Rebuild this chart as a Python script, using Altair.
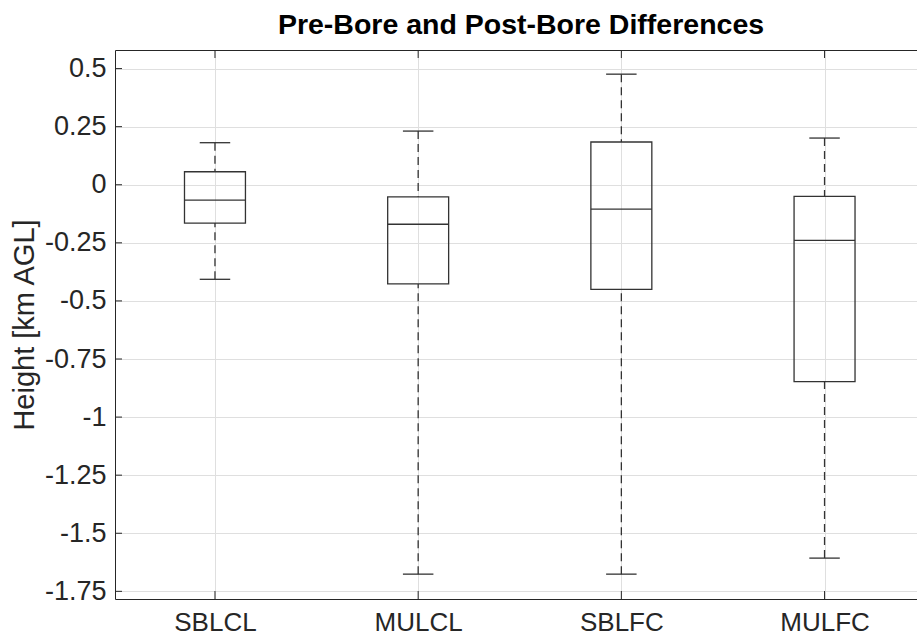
import altair as alt
import pandas as pd

# ---- data ----
categories = ["SBLCL", "MULCL", "SBLFC", "MULFC"]
lower_whisker = [-0.407, -1.676, -1.676, -1.607]
q1 = [-0.165, -0.427, -0.450, -0.847]
median = [-0.066, -0.170, -0.105, -0.239]
q3 = [0.056, -0.052, 0.184, -0.050]
upper_whisker = [0.181, 0.231, 0.476, 0.201]

y_ticks = [-1.75, -1.5, -1.25, -1, -0.75, -0.5, -0.25, 0, 0.25, 0.5]
y_tick_labels = ["-1.75", "-1.5", "-1.25", "-1", "-0.75", "-0.5", "-0.25", "0", "0.25", "0.5"]

title_text = "Pre-Bore and Post-Bore Differences"
y_title = "Height [km AGL]"

# ---- layout / style ----
W, H = 802, 549
FONT = "Liberation Sans"
AX = "#262626"
LINE = "#333333"
GRID = "#dfdfdf"
BOX_HALF = 0.15
CAP_HALF = 0.075

df = pd.DataFrame({
    "cat": categories,
    "pos": list(range(1, len(categories) + 1)),
    "lower": lower_whisker,
    "q1": q1,
    "median": median,
    "q3": q3,
    "upper": upper_whisker,
})
ticks_df = pd.DataFrame({"v": y_ticks, "lab": y_tick_labels})

xscale = alt.Scale(domain=[0.508, 4.455], nice=False, zero=False)
yscale = alt.Scale(domain=[-1.783, 0.58], nice=False, zero=False)

x_label_expr = "[" + ",".join("'%s'" % c for c in categories) + "][datum.value - 1]"
y_label_expr = "datum.value < 0 ? '-' + format(-datum.value, '') : format(datum.value, '')"

x_axis_bottom = alt.Axis(values=list(range(1, len(categories) + 1)), labelExpr=x_label_expr,
                         orient="bottom", grid=True, gridColor=GRID, ticks=True, tickSize=0,
                         labelPadding=10, labelFontSize=26, labelFont=FONT, labelColor=AX,
                         domainColor=AX, domainWidth=1, title=None)
y_axis = alt.Axis(values=y_ticks, labelExpr=y_label_expr, grid=True, gridColor=GRID,
                  ticks=True, tickSize=0, labelPadding=9, labelFontSize=27, labelFont=FONT,
                  labelColor=AX, domainColor=AX, domainWidth=1,
                  title=y_title, titleFont=FONT, titleFontSize=29, titleFontWeight="normal",
                  titleColor=AX, titleX=-82, titleY=H / 2, titleAngle=270,
                  titleAlign="center", titleBaseline="alphabetic")

Y = lambda f: alt.Y(f, scale=yscale, axis=y_axis)
XN = lambda f: alt.X(f, scale=xscale, axis=None)

base = alt.Chart(df).transform_calculate(
    bx1=f"datum.pos - {BOX_HALF}", bx2=f"datum.pos + {BOX_HALF}",
    cx1=f"datum.pos - {CAP_HALF}", cx2=f"datum.pos + {CAP_HALF}",
)

boxes = base.mark_rect(fill="transparent", stroke=LINE, strokeWidth=1.3).encode(
    x=alt.X("bx1:Q", scale=xscale, axis=x_axis_bottom),
    x2="bx2:Q",
    y=Y("q1:Q"), y2="q3:Q",
)
medians = base.mark_rule(color=LINE, strokeWidth=1.3).encode(
    x=XN("bx1:Q"), x2="bx2:Q", y=Y("median:Q"),
)
up_whisk = base.mark_rule(color=LINE, strokeWidth=1.3, strokeDash=[8, 5]).encode(
    x=XN("pos:Q"), y=Y("upper:Q"), y2="q3:Q",
)
lo_whisk = base.mark_rule(color=LINE, strokeWidth=1.3, strokeDash=[8, 5]).encode(
    x=XN("pos:Q"), y=Y("lower:Q"), y2="q1:Q",
)
up_cap = base.mark_rule(color=LINE, strokeWidth=1.3).encode(
    x=XN("cx1:Q"), x2="cx2:Q", y=Y("upper:Q"),
)
lo_cap = base.mark_rule(color=LINE, strokeWidth=1.3).encode(
    x=XN("cx1:Q"), x2="cx2:Q", y=Y("lower:Q"),
)

# inward tick marks (MATLAB style)
y_tick_marks = alt.Chart(ticks_df).mark_rule(color=AX, strokeWidth=1).encode(
    y=Y("v:Q"), x=alt.value(0), x2=alt.value(7),
)
x_tick_bottom = alt.Chart(df).mark_rule(color=AX, strokeWidth=1).encode(
    x=XN("pos:Q"), y=alt.value(H), y2=alt.value(H - 8),
)
x_tick_top = alt.Chart(df).mark_rule(color=AX, strokeWidth=1).encode(
    x=alt.X("pos:Q", scale=xscale,
            axis=alt.Axis(orient="top", labels=False, ticks=False, grid=False,
                          domainColor=AX, domainWidth=1, title=None)),
    y=alt.value(0), y2=alt.value(8),
)

chart = alt.layer(
    boxes, medians, up_whisk, lo_whisk, up_cap, lo_cap,
    y_tick_marks, x_tick_bottom, x_tick_top,
).resolve_axis(x="independent").properties(
    width=W, height=H,
    background="white",
    title=alt.TitleParams(title_text, font=FONT, fontSize=28.5, fontWeight="bold",
                          color="#000000", anchor="middle", offset=10, dx=5),
    autosize=alt.AutoSizeParams(type="none"),
    padding={"left": 115, "top": 50, "right": 0, "bottom": 36},
).configure_view(stroke="transparent", strokeWidth=0)

chart.save("out.html", embed_options={"renderer": "svg", "actions": False})
